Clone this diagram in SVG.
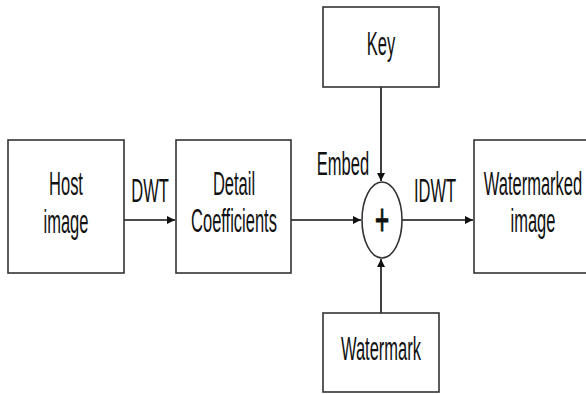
<svg xmlns="http://www.w3.org/2000/svg" width="586" height="394" viewBox="0 0 586 394">
<style>
.box{fill:#fff;stroke:#333;stroke-width:1.6}
.t{font-family:"Liberation Sans",Arial,sans-serif;font-size:33px;fill:#111;text-anchor:middle}
.c{stroke:#111;stroke-width:1.6;fill:none}
</style>
<defs>
<marker id="ah" markerWidth="10" markerHeight="10" refX="9" refY="5" orient="auto" markerUnits="userSpaceOnUse">
<path d="M1,1 L9,5 L1,9 Z" fill="#111"/>
</marker>
</defs>
<rect width="586" height="394" fill="#fff"/>
<g id="connectors">
<line class="c" x1="124" y1="220" x2="175" y2="220" marker-end="url(#ah)"/>
<line class="c" x1="291" y1="220" x2="361" y2="220" marker-end="url(#ah)"/>
<line class="c" x1="402" y1="220" x2="473" y2="220" marker-end="url(#ah)"/>
<line class="c" x1="381" y1="87" x2="381" y2="181" marker-end="url(#ah)"/>
<line class="c" x1="381" y1="313" x2="381" y2="259" marker-end="url(#ah)"/>
<text class="t" transform="translate(150,202) scale(0.5,1)">DWT</text>
<text class="t" transform="translate(343,175) scale(0.5,1)">Embed</text>
<text class="t" transform="translate(435,202) scale(0.5,1)">IDWT</text>
</g>
<g id="host">
<rect class="box" x="8" y="140" width="116" height="133"/>
<text class="t" transform="translate(66,195) scale(0.5,1)">Host</text>
<text class="t" transform="translate(66,233) scale(0.5,1)">image</text>
</g>
<g id="detail">
<rect class="box" x="176" y="140" width="115" height="133"/>
<text class="t" transform="translate(234,195) scale(0.5,1)">Detail</text>
<text class="t" transform="translate(234,232) scale(0.5,1)">Coefficients</text>
</g>
<g id="key">
<rect class="box" x="323" y="7" width="116" height="80"/>
<text class="t" transform="translate(381,55) scale(0.5,1)">Key</text>
</g>
<g id="adder">
<ellipse cx="382" cy="220" rx="20" ry="38" fill="#fff" stroke="#333" stroke-width="1.6"/>
<text class="t" style="font-size:44px;stroke:#111;stroke-width:1.2" transform="translate(382,235) scale(0.55,1)">+</text>
</g>
<g id="watermarked">
<rect class="box" x="474" y="140" width="116" height="133"/>
<text class="t" transform="translate(533,195) scale(0.5,1)">Watermarked</text>
<text class="t" transform="translate(533,232) scale(0.5,1)">image</text>
</g>
<g id="watermark">
<rect class="box" x="323" y="313" width="116" height="79"/>
<text class="t" transform="translate(381,360) scale(0.5,1)">Watermark</text>
</g>
</svg>
